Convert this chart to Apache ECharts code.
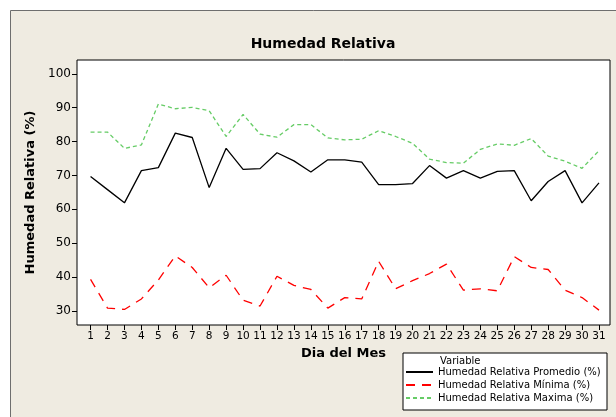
<!DOCTYPE html>
<html>
<head>
<meta charset="utf-8">
<script src="https://cdn.jsdelivr.net/npm/echarts@6/dist/echarts.min.js"></script>
<style>
  html, body { margin: 0; padding: 0; background: #fff; }
  #chart { width: 616px; height: 417px; }
</style>
</head>
<body>
<div id="chart"></div>
<script>
const days = Array.from({ length: 31 }, (_, i) => i + 1)
const promedio = [69.7, 65.8, 61.9, 71.4, 72.3, 82.5, 81.2, 66.4, 78.0, 71.8, 72.0, 76.7, 74.3, 71.0, 74.6, 74.6, 73.9, 67.3, 67.3, 67.6, 72.9, 69.2, 71.4, 69.2, 71.2, 71.4, 62.5, 68.2, 71.4, 61.9, 67.8]
const minima = [39.3, 30.8, 30.4, 33.5, 39.1, 46.2, 42.8, 36.8, 40.5, 33.1, 31.4, 40.2, 37.5, 36.3, 30.8, 33.9, 33.5, 44.6, 36.5, 38.9, 41.0, 43.8, 36.1, 36.5, 35.9, 46.0, 42.8, 42.2, 36.1, 33.9, 30.2]
const maxima = [82.8, 82.8, 78.0, 79.0, 91.1, 89.7, 90.1, 89.1, 81.5, 88.0, 82.2, 81.3, 85.0, 85.0, 81.1, 80.5, 80.7, 83.2, 81.5, 79.5, 74.8, 73.8, 73.6, 77.7, 79.3, 78.9, 80.9, 75.7, 74.2, 72.1, 77.3]
const yTicks = [30, 40, 50, 60, 70, 80, 90, 100]

const font = 'DejaVu Sans'
const chart = echarts.init(document.getElementById('chart'))

const pairs = arr => arr.map((v, i) => [days[i], v])

chart.setOption({
  animation: false,
  textStyle: { fontFamily: font },
  graphic: [
    {
      type: 'rect',
      shape: { x: 10.5, y: 10.5, width: 620, height: 420 },
      style: { fill: '#efebe1', stroke: '#6e6e6e', lineWidth: 1 },
      z: -10
    },
    {
      type: 'rect',
      shape: { x: 403, y: 353, width: 204, height: 57 },
      style: { fill: '#fff', stroke: '#000', lineWidth: 1 },
      z: 5
    },
    {
      type: 'text',
      left: 440,
      top: 356,
      style: { text: 'Variable', font: '10px "DejaVu Sans"', fill: '#000' },
      z: 6
    }
  ],
  title: {
    text: 'Humedad Relativa',
    left: 318,
    top: 32,
    textAlign: 'center',
    textStyle: { fontFamily: font, fontSize: 14, fontWeight: 'bold', color: '#000' }
  },
  legend: {
    orient: 'vertical',
    left: 405,
    top: 367,
    itemWidth: 27,
    itemHeight: 10,
    itemGap: 3,
    padding: 0,
    z: 7,
    itemStyle: { opacity: 0 },
    textStyle: { fontFamily: font, fontSize: 10, color: '#000' },
    data: ['Humedad Relativa Promedio (%)', 'Humedad Relativa Mínima (%)', 'Humedad Relativa Maxima (%)']
  },
  grid: {
    left: 77,
    top: 60,
    right: 6,
    bottom: 92,
    show: true,
    backgroundColor: '#fff',
    borderColor: '#000',
    borderWidth: 1
  },
  xAxis: {
    type: 'value',
    min: 0.2,
    max: 31.65,
    name: 'Dia del Mes',
    nameLocation: 'middle',
    nameGap: 22,
    nameTextStyle: { fontFamily: font, fontSize: 13, fontWeight: 'bold', color: '#000' },
    axisLine: { show: false },
    splitLine: { show: false },
    axisTick: { show: true, length: 5, lineStyle: { color: '#000' }, customValues: days },
    axisLabel: { fontSize: 10.5, color: '#000', margin: 6, customValues: days }
  },
  yAxis: {
    type: 'value',
    min: 25.8,
    max: 104.1,
    name: 'Humedad Relativa (%)',
    nameLocation: 'middle',
    nameGap: 40,
    nameRotate: 90,
    nameTextStyle: { fontFamily: font, fontSize: 13, fontWeight: 'bold', color: '#000' },
    axisLine: { show: false },
    splitLine: { show: false },
    axisTick: { show: true, length: 5, lineStyle: { color: '#000' }, customValues: yTicks },
    axisLabel: { fontSize: 12, color: '#000', margin: 6, customValues: yTicks }
  },
  series: [
    {
      name: 'Humedad Relativa Promedio (%)',
      type: 'line',
      symbol: 'none',
      data: pairs(promedio),
      lineStyle: { color: '#000', width: 1.3, type: 'solid' },
      itemStyle: { color: '#000' }
    },
    {
      name: 'Humedad Relativa Mínima (%)',
      type: 'line',
      symbol: 'none',
      data: pairs(minima),
      lineStyle: { color: '#ff0000', width: 1.3, type: [9, 7] },
      itemStyle: { color: '#ff0000' }
    },
    {
      name: 'Humedad Relativa Maxima (%)',
      type: 'line',
      symbol: 'none',
      data: pairs(maxima),
      lineStyle: { color: '#66cc66', width: 1.3, type: [4, 3] },
      itemStyle: { color: '#66cc66' }
    }
  ]
})
</script>
</body>
</html>
